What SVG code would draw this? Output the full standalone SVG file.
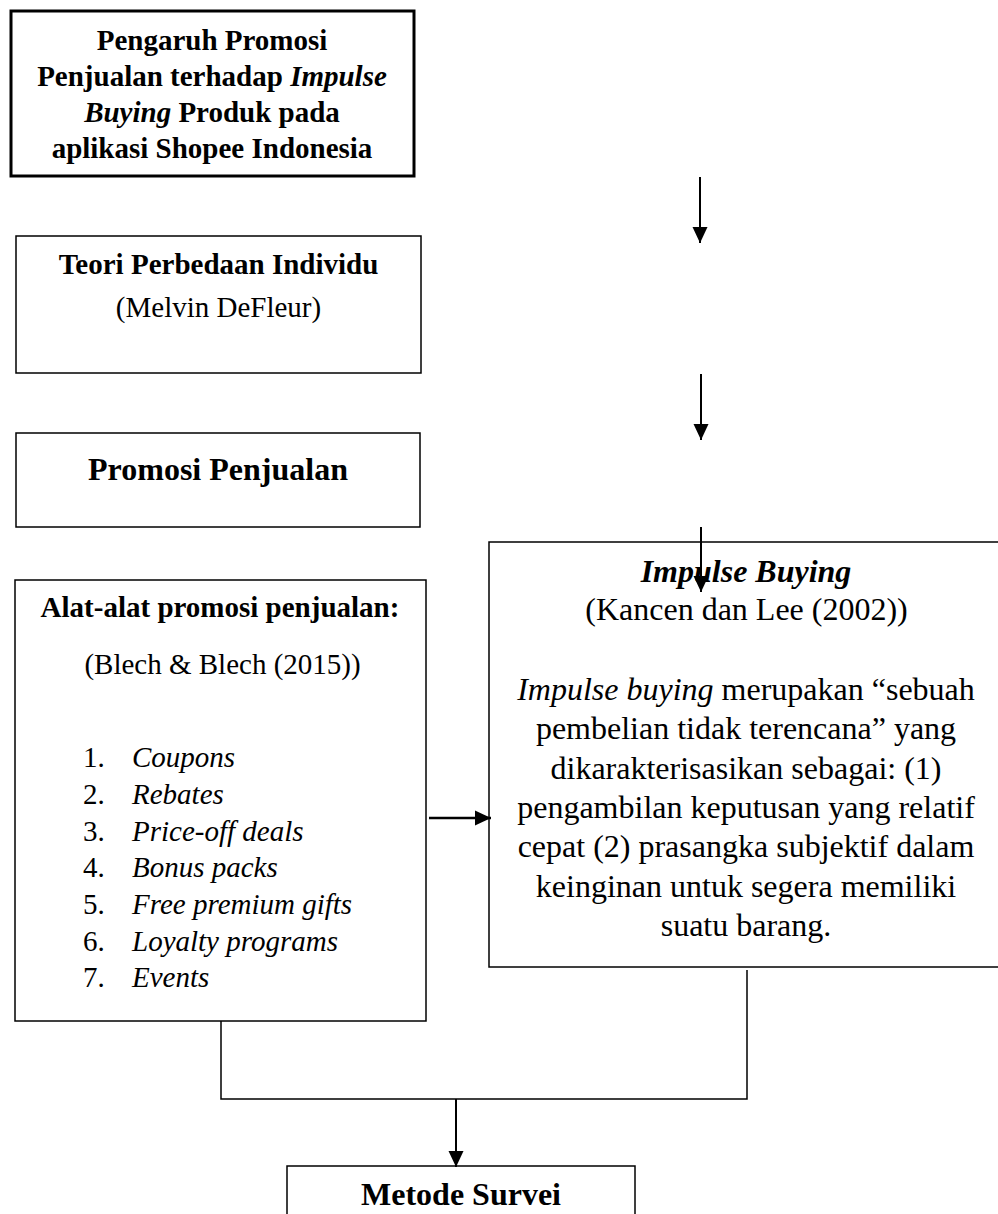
<svg xmlns="http://www.w3.org/2000/svg" width="998" height="1214" viewBox="0 0 998 1214">
<style>
.box{fill:#fff;stroke:#000;stroke-width:1.5}
.thick{fill:#fff;stroke:#000;stroke-width:3}
.t{font-family:"Liberation Serif","Times New Roman",serif;fill:#000}
.b{font-weight:bold}
.i{font-style:italic}
.c{text-anchor:middle}
.ln{fill:none;stroke:#000;stroke-width:1.5}
.ar{fill:none;stroke:#000;stroke-width:2}
</style>
<defs>
<marker id="ah" markerUnits="userSpaceOnUse" markerWidth="16" markerHeight="16" refX="16" refY="8" orient="auto">
<path d="M0,0.5 L16,8 L0,15.5 Z" fill="#000"/>
</marker>
</defs>
<rect width="998" height="1214" fill="#fff"/>
<g id="title">
<rect class="thick" x="11" y="11" width="403" height="165"/>
<text class="t b c" font-size="29" x="212" y="50">Pengaruh Promosi</text>
<text class="t b c" font-size="29" x="212" y="86">Penjualan terhadap <tspan class="i">Impulse</tspan></text>
<text class="t b c" font-size="29" x="212" y="122"><tspan class="i">Buying</tspan> Produk pada</text>
<text class="t b c" font-size="29" x="212" y="158">aplikasi Shopee Indonesia</text>
</g>
<g id="teori">
<rect class="box" x="16" y="236" width="405" height="137"/>
<text class="t b c" font-size="29" x="218.5" y="274">Teori Perbedaan Individu</text>
<text class="t c" font-size="29" x="218.5" y="317">(Melvin DeFleur)</text>
</g>
<g id="promosi">
<rect class="box" x="16" y="433" width="404" height="94"/>
<text class="t b c" font-size="32" x="218" y="480">Promosi Penjualan</text>
</g>
<g id="alat">
<rect class="box" x="15" y="580" width="411" height="441"/>
<text class="t b c" font-size="29" x="220" y="617">Alat-alat promosi penjualan:</text>
<text class="t c" font-size="29" x="222.5" y="674">(Blech &amp; Blech (2015))</text>
<g class="t" font-size="29">
<text x="83" y="767">1.</text><text class="i" x="132" y="767">Coupons</text>
<text x="83" y="804">2.</text><text class="i" x="132" y="804">Rebates</text>
<text x="83" y="841">3.</text><text class="i" x="132" y="841">Price-off deals</text>
<text x="83" y="877">4.</text><text class="i" x="132" y="877">Bonus packs</text>
<text x="83" y="914">5.</text><text class="i" x="132" y="914">Free premium gifts</text>
<text x="83" y="951">6.</text><text class="i" x="132" y="951">Loyalty programs</text>
<text x="83" y="987">7.</text><text class="i" x="132" y="987">Events</text>
</g>
</g>
<g id="impulse">
<rect class="box" x="489" y="542" width="512" height="425"/>
<text class="t b i c" font-size="32" x="746" y="582">Impulse Buying</text>
<text class="t c" font-size="32" x="746.5" y="620">(Kancen dan Lee (2002))</text>
<g class="t c" font-size="32">
<text x="746" y="700"><tspan class="i">Impulse buying</tspan> merupakan “sebuah</text>
<text x="746" y="739">pembelian tidak terencana” yang</text>
<text x="746" y="779">dikarakterisasikan sebagai: (1)</text>
<text x="746" y="818">pengambilan keputusan yang relatif</text>
<text x="746" y="857">cepat (2) prasangka subjektif dalam</text>
<text x="746" y="897">keinginan untuk segera memiliki</text>
<text x="746" y="936">suatu barang.</text>
</g>
</g>
<g id="metode">
<rect class="box" x="287" y="1166" width="348" height="60"/>
<text class="t b c" font-size="32" x="461" y="1205">Metode Survei</text>
</g>
<g id="connectors">
<line class="ar" x1="700" y1="177" x2="700" y2="243" marker-end="url(#ah)"/>
<line class="ar" x1="701" y1="374" x2="701" y2="440" marker-end="url(#ah)"/>
<line class="ar" x1="701" y1="527" x2="701" y2="592" marker-end="url(#ah)"/>
<line x1="429" y1="818" x2="491" y2="818" stroke="#000" stroke-width="2.5" marker-end="url(#ah)"/>
<polyline class="ln" points="221,1021 221,1099 747,1099 747,970"/>
<line class="ar" x1="456" y1="1099" x2="456" y2="1167" marker-end="url(#ah)"/>
</g>
</svg>
